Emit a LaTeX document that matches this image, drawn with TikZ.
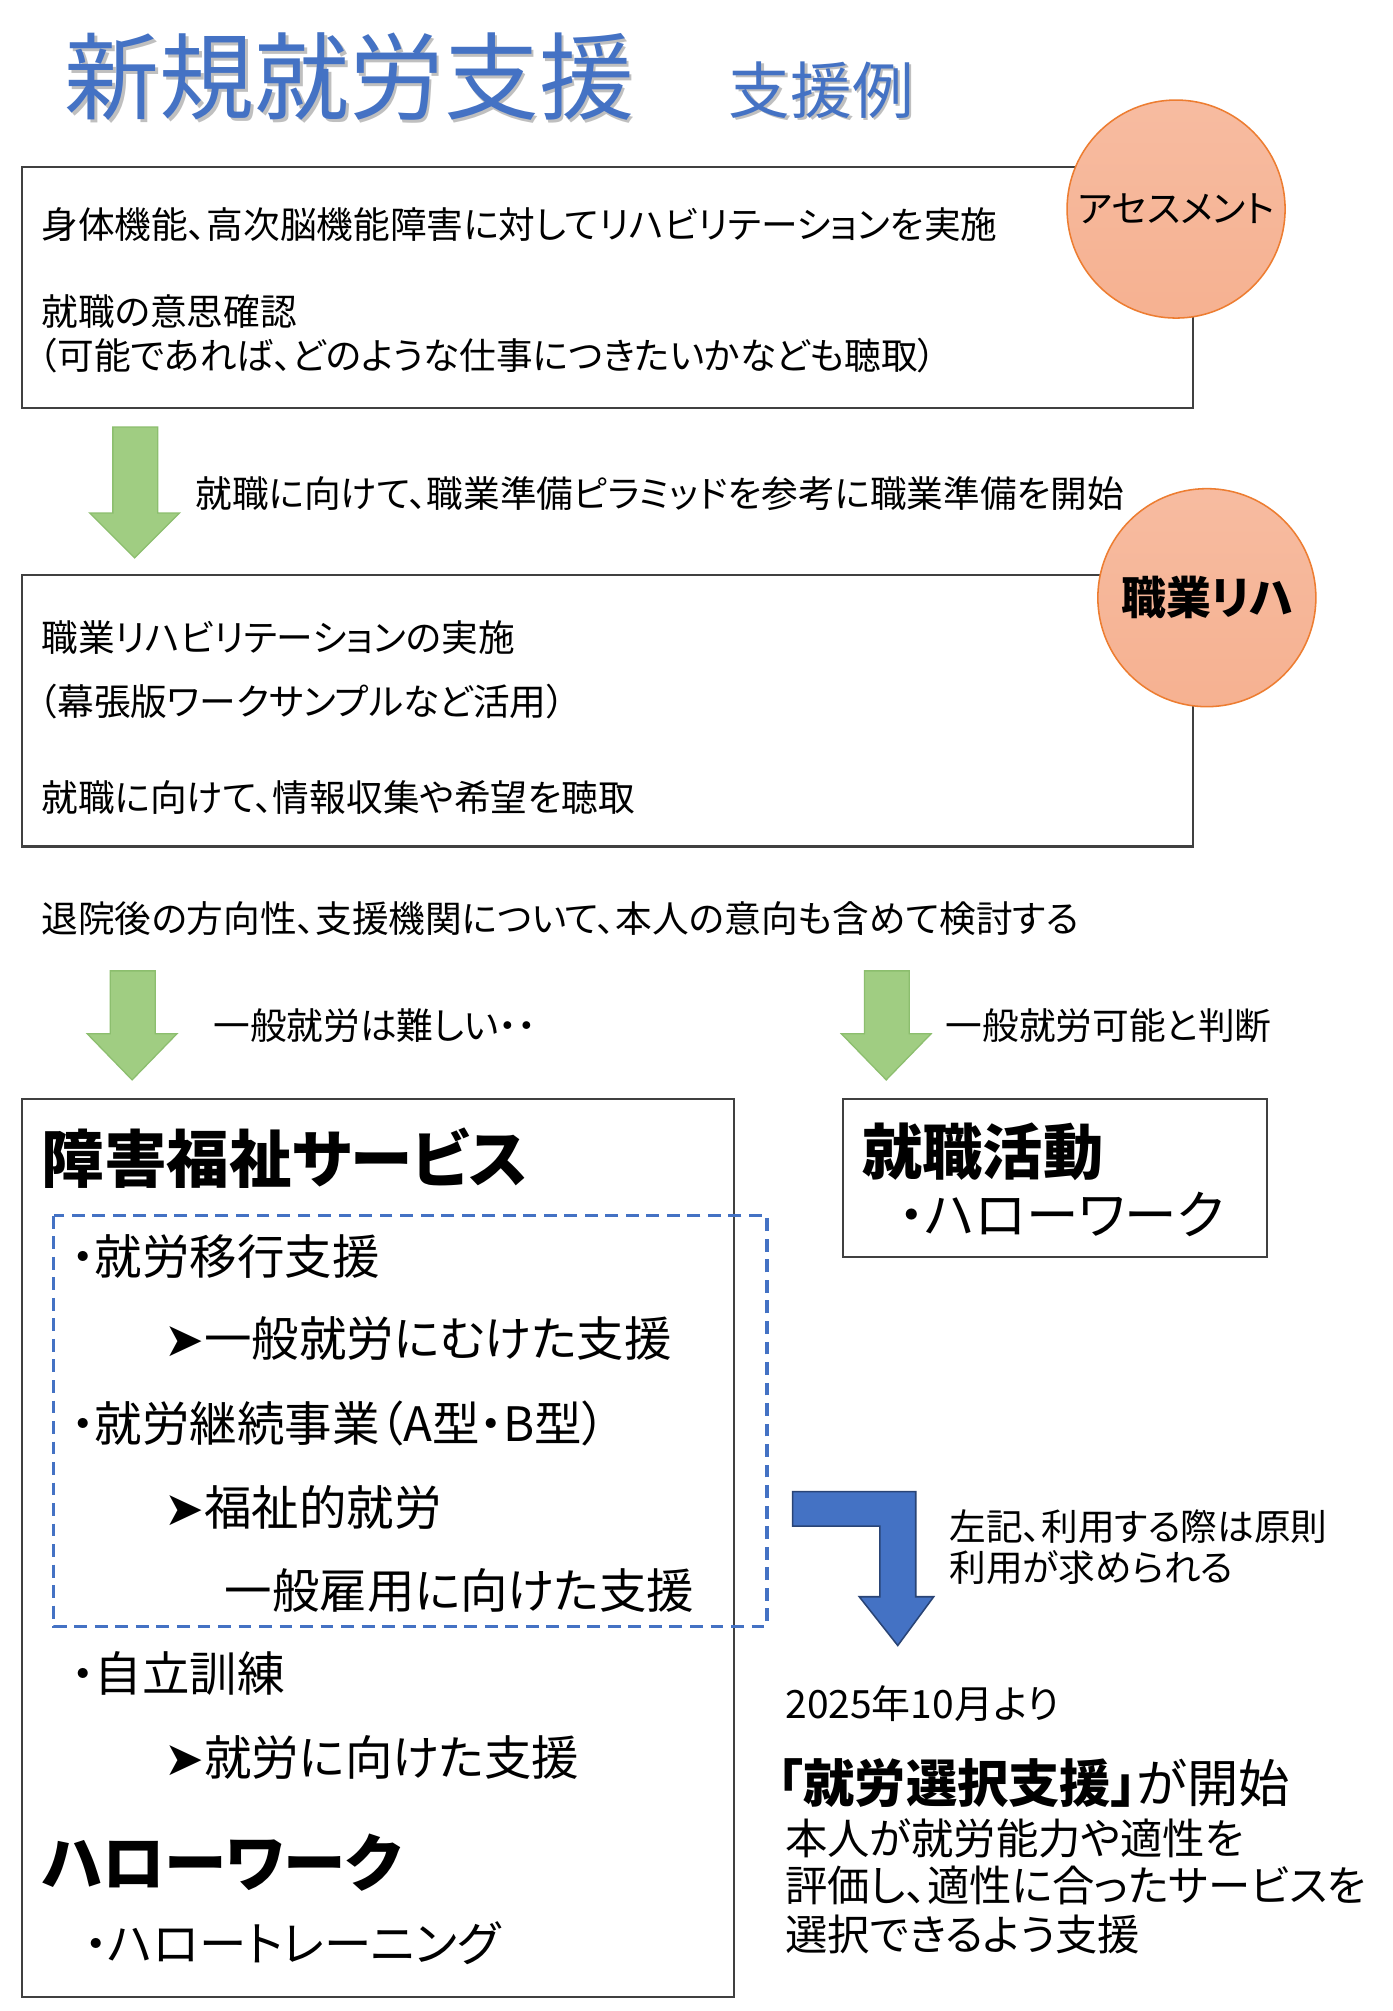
\documentclass[tikz,border=0pt]{standalone}
\usepackage{fontspec}
\setmainfont[RawFeature=+palt]{Noto Sans CJK JP}
\newfontfamily\djv{DejaVu Sans}
\definecolor{tblue}{RGB}{68,114,196}
\definecolor{grn}{RGB}{160,205,130}
\definecolor{grnd}{RGB}{140,190,110}
\definecolor{org}{RGB}{237,125,49}
\definecolor{circ}{RGB}{246,180,150}
\newcommand{\arr}{{\djv ➤}}
\begin{document}
\begin{tikzpicture}[x=0.5pt,y=-0.5pt,
  box/.style={draw=black!75,line width=0.8pt},
  t/.style={anchor=west,inner sep=0,font=\fontsize{14.3}{16}\selectfont},
  tb/.style={anchor=west,inner sep=0,font=\fontsize{18.5}{21}\selectfont},
  big/.style={anchor=west,inner sep=0,font=\fontsize{24.4}{27}\selectfont\bfseries},
  circle node/.style={circle,draw=org,line width=0.6pt,minimum size=85pt,inner sep=0,
     top color=circ!90!white,bottom color=circ!95!org},
  garrow/.style={fill=grn,draw=grnd,line width=0.5pt}]
\useasboundingbox (0,0) rectangle (1086,1568);
\fill[white] (0,0) rectangle (1086,1568);
% title
\node[anchor=west,inner sep=0,text=black!25,font=\fontsize{37}{40}\selectfont] (titleshadow) at (52,62) {新規就労支援};
\node[anchor=west,inner sep=0,text=tblue,font=\fontsize{37}{40}\selectfont] (title) at (50,60) {新規就労支援};
\node[anchor=west,inner sep=0,text=black!25,font=\fontsize{24}{28}\selectfont] (subshadow) at (570,72) {支援例};
\node[anchor=west,inner sep=0,text=tblue,font=\fontsize{24}{28}\selectfont] (sub) at (568,70) {支援例};
% box1
\draw[box] (17,130) rectangle (930,318);
\node[t] (l1) at (32,175) {身体機能、高次脳機能障害に対してリハビリテーションを実施};
\node[t] (l2) at (32,243) {就職の意思確認};
\node[t] (l3) at (30,277) {（可能であれば、どのような仕事につきたいかなども聴取）};
\node[circle node,font=\fontsize{14.5}{16}\selectfont] (c1) at (917,163) {アセスメント};
% arrow1
\draw[garrow] (88,333) -- (123,333) -- (123,400) -- (140,400) -- (105,435) -- (70,400) -- (88,400) -- cycle;
\node[t] (a1) at (152,385) {就職に向けて、職業準備ピラミッドを参考に職業準備を開始};
% box2
\draw[box] (17,448) rectangle (930,660);
\node[t] (m1) at (32,497) {職業リハビリテーションの実施};
\node[t] (m2) at (30,547) {（幕張版ワークサンプルなど活用）};
\node[t] (m3) at (32,622) {就職に向けて、情報収集や希望を聴取};
\node[circle node,font=\fontsize{17.5}{20}\selectfont\bfseries] (c2) at (941,466) {職業リハ};
\node[t] (d) at (32,716) {退院後の方向性、支援機関について、本人の意向も含めて検討する};
% arrows 2,3
\draw[garrow] (86,757) -- (121,757) -- (121,806) -- (138,806) -- (103,842) -- (68,806) -- (86,806) -- cycle;
\node[t] (a2) at (166,800) {一般就労は難しい・・};
\draw[garrow] (674,757) -- (709,757) -- (709,806) -- (726,806) -- (691,842) -- (656,806) -- (674,806) -- cycle;
\node[t] (a3) at (737,800) {一般就労可能と判断};
% box3
\draw[box] (17,857) rectangle (572,1557);
\node[big] (s1) at (32,903) {障害福祉サービス};
\draw[tblue,line width=1.2pt,dash pattern=on 5pt off 3pt] (42,948) rectangle (598,1268);
\node[tb] (s2) at (55,980) {・就労移行支援};
\node[tb] (s3) at (128,1044) {\arr 一般就労にむけた支援};
\node[tb] (s4) at (55,1110) {・就労継続事業（A型・B型）};
\node[tb] (s5) at (128,1175) {\arr 福祉的就労};
\node[tb] (s6) at (175,1240) {一般雇用に向けた支援};
\node[tb] (s7) at (55,1305) {・自立訓練};
\node[tb] (s8) at (128,1370) {\arr 就労に向けた支援};
\node[big] (s9) at (32,1452) {ハローワーク};
\node[tb] (s10) at (65,1515) {・ハロートレーニング};
% box4
\draw[box] (657,857) rectangle (988,980);
\node[big,font=\fontsize{23.5}{26}\selectfont\bfseries] (j1) at (672,898) {就職活動};
\node[anchor=west,inner sep=0,font=\fontsize{20.5}{23}\selectfont] (j2) at (700,947) {・ハローワーク};
% blue bent arrow
\draw[fill=tblue,draw=tblue!60!black,line width=0.6pt] (618,1163) -- (714,1163) -- (714,1245) -- (728,1245) -- (700,1283) -- (670,1245) -- (686,1245) -- (686,1190) -- (618,1190) -- cycle;
\node[t] (b1) at (740,1190) {左記、利用する際は原則};
\node[t] (b2) at (740,1222) {利用が求められる};
\node[anchor=west,inner sep=0,font=\fontsize{15.2}{17}\selectfont] (y) at (612,1328) {2025年10月より};
\node[anchor=west,inner sep=0,font=\fontsize{20}{23}\selectfont] (k) at (606,1390) {\textbf{「就労選択支援」}が開始};
\node[anchor=west,inner sep=0,font=\fontsize{16.5}{18}\selectfont] (k1) at (612,1433) {本人が就労能力や適性を};
\node[anchor=west,inner sep=0,font=\fontsize{16.5}{18}\selectfont] (k2) at (612,1470) {評価し、適性に合ったサービスを};
\node[anchor=west,inner sep=0,font=\fontsize{16.5}{18}\selectfont] (k3) at (612,1508) {選択できるよう支援};
\end{tikzpicture}
\end{document}
